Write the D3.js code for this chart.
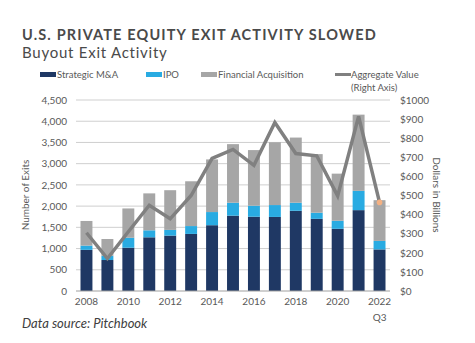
<!DOCTYPE html>
<html><head><meta charset="utf-8">
<script src="https://cdn.jsdelivr.net/npm/d3@7"></script>
<style>
body{margin:0;background:#fff;}
svg text{font-family:Lato,"Open Sans",sans-serif;}
</style></head>
<body><div id="chart"></div>
<script>
const years = ["2008","2009","2010","2011","2012","2013","2014","2015","2016","2017","2018","2019","2020","2021","2022"];
const strategic = [970,730,1020,1265,1305,1345,1550,1775,1750,1745,1890,1700,1465,1905,980];
const ipo = [100,100,235,165,135,185,310,305,260,280,190,145,190,455,200];
const financial = [580,395,690,870,935,1055,1240,1380,1310,1480,1535,1380,1110,1795,960];
const aggregate = [305,170,310,449,378,500,694,741,658,882,720,708,498,914,464];
const leftTicks = [0,500,1000,1500,2000,2500,3000,3500,4000,4500];
const rightTicks = [0,100,200,300,400,500,600,700,800,900,1000];
const xLabels = ["2008","2010","2012","2014","2016","2018","2020","2022"];
const seriesNames = ["Strategic M&A","IPO","Financial Acquisition"];
const colors = ["#1f3864","#29abe2","#a6a6a6"];

const W=475,H=343;
const svg=d3.select("#chart").append("svg").attr("width",W).attr("height",H);
const x=d3.scaleBand().domain(years).range([76,390]).paddingInner(0.43).paddingOuter(0.215);
const yL=d3.scaleLinear().domain([0,4500]).range([291,100]);
const yR=d3.scaleLinear().domain([0,1000]).range([291,100]);

// title
svg.append("text").attr("x",22).attr("y",40).text("U.S. PRIVATE EQUITY EXIT ACTIVITY SLOWED")
  .attr("font-size",14.5).attr("font-weight",700).attr("letter-spacing",1.15).attr("fill","#4a4a4a");
svg.append("text").attr("x",22).attr("y",58).text("Buyout Exit Activity")
  .attr("font-size",15).attr("letter-spacing",0.75).attr("fill","#4a4a4a");

// gridlines
svg.append("g").selectAll("line").data(leftTicks.slice(1)).join("line")
  .attr("x1",76).attr("x2",390).attr("y1",d=>yL(d)).attr("y2",d=>yL(d))
  .attr("stroke","#cfcfcf").attr("stroke-width",1);

// stacked bars
const rows=years.map((y,i)=>({year:y,s0:strategic[i],s1:ipo[i],s2:financial[i]}));
const stack=d3.stack().keys(["s0","s1","s2"])(rows);
svg.append("g").selectAll("g").data(stack).join("g").attr("fill",(d,i)=>colors[i])
  .selectAll("rect").data(d=>d).join("rect")
  .attr("x",d=>x(d.data.year)).attr("width",x.bandwidth())
  .attr("y",d=>yL(d[1])).attr("height",d=>yL(d[0])-yL(d[1]));

// baseline
svg.append("line").attr("x1",76).attr("x2",390).attr("y1",yL(0)).attr("y2",yL(0))
  .attr("stroke","#a0a0a0").attr("stroke-width",1.2);

// line
const line=d3.line().x((d,i)=>x(years[i])+x.bandwidth()/2).y(d=>yR(d));
svg.append("path").datum(aggregate).attr("d",line).attr("fill","none")
  .attr("stroke","#808080").attr("stroke-width",3.5).attr("stroke-linejoin","miter");
svg.append("circle").attr("cx",x(years[14])+x.bandwidth()/2).attr("cy",yR(aggregate[14]))
  .attr("r",2.8).attr("fill","#f4b183");

// axes
const gl=svg.append("g").attr("transform","translate(70,0)")
  .call(d3.axisLeft(yL).tickValues(leftTicks).tickFormat(d3.format(",")).tickSize(0).tickPadding(3));
const gr=svg.append("g").attr("transform","translate(398,0)")
  .call(d3.axisRight(yR).tickValues(rightTicks).tickFormat(d=>"$"+d).tickSize(0).tickPadding(2));
const gx=svg.append("g").attr("transform","translate(0,295)")
  .call(d3.axisBottom(x).tickValues(xLabels).tickSize(0).tickPadding(3));
[gl,gr,gx].forEach(g=>{g.select(".domain").remove();
  g.selectAll("text").attr("font-size",10).attr("fill","#595959").attr("font-family","Lato,'Open Sans',sans-serif");});
svg.append("text").attr("x",x("2022")+x.bandwidth()/2).attr("y",321).attr("text-anchor","middle")
  .attr("font-size",10).attr("fill","#595959").text("Q3");

// axis titles
svg.append("text").attr("transform","translate(29,195) rotate(-90)").attr("text-anchor","middle")
  .attr("font-size",10).attr("fill","#595959").text("Number of Exits");
svg.append("text").attr("transform","translate(433,195) rotate(90)").attr("text-anchor","middle")
  .attr("font-size",10).attr("fill","#595959").text("Dollars in Billions");

// legend
const legX=[40,146,201];
seriesNames.forEach((n,i)=>{
  svg.append("rect").attr("x",legX[i]).attr("y",72).attr("width",16).attr("height",5).attr("fill",colors[i]);
  svg.append("text").attr("x",legX[i]+17).attr("y",78).attr("font-size",9.5).attr("fill","#595959").text(n);
});
svg.append("line").attr("x1",335).attr("x2",351).attr("y1",74.5).attr("y2",74.5).attr("stroke","#808080").attr("stroke-width",3);
svg.append("text").attr("x",351).attr("y",78).attr("font-size",9.5).attr("fill","#595959").text("Aggregate Value");
svg.append("text").attr("x",351).attr("y",91).attr("font-size",9.5).attr("fill","#595959").text("(Right Axis)");

// source
svg.append("text").attr("x",22).attr("y",328).attr("font-size",13).attr("font-style","italic")
  .attr("fill","#404040").text("Data source: Pitchbook");
</script></body></html>
